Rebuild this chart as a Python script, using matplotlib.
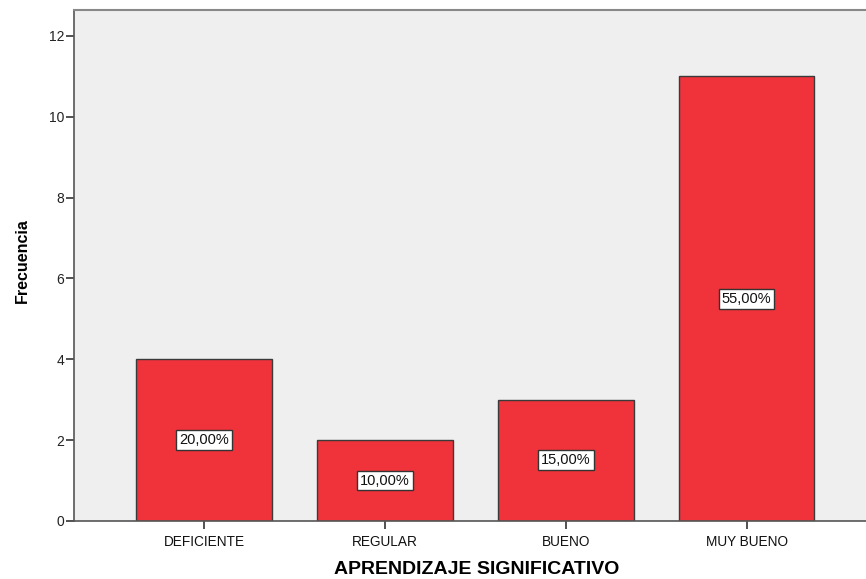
import numpy as np
import matplotlib.pyplot as plt

categorias = ['DEFICIENTE', 'REGULAR', 'BUENO', 'MUY BUENO']
frecuencia = [4, 2, 3, 11]
porcentajes = ['20,00%', '10,00%', '15,00%', '55,00%']

plt.rcParams['font.family'] = ['Liberation Sans', 'DejaVu Sans']

fig = plt.figure(figsize=(8.66, 5.79), dpi=100)
ax = fig.add_axes([0.0855, 0.1002, 0.9145, 0.8825])
ax.set_facecolor('#efefef')

x = np.arange(len(categorias))
bars = ax.bar(x, frecuencia, width=0.75, color='#f0323a', edgecolor='#3a3a3a', linewidth=1.0, zorder=2)

for xi, v, p in zip(x, frecuencia, porcentajes):
    ax.text(xi, v / 2, p, ha='center', va='center', fontsize=10.5, color='#111111', zorder=3,
            bbox=dict(boxstyle='square,pad=0.2', facecolor='white', edgecolor='#333333', linewidth=1.0))

ax.set_xlim(-0.72, 3.66)
ax.set_ylim(0, 12.64)
ax.set_yticks([0, 2, 4, 6, 8, 10, 12])
ax.set_xticks(x)
ax.set_xticklabels(categorias, fontsize=9.8)
ax.tick_params(axis='y', labelsize=10, length=6, width=1.2, color='#333333', pad=1, labelcolor='#222222')
ax.tick_params(axis='x', length=6, width=1.2, color='#333333', pad=4, labelcolor='#111111')

ax.spines['right'].set_visible(False)
ax.spines['top'].set_color('#888888')
ax.spines['top'].set_linewidth(1.5)
ax.spines['left'].set_color('#555555')
ax.spines['left'].set_linewidth(1.2)
ax.spines['bottom'].set_color('#555555')
ax.spines['bottom'].set_linewidth(1.2)

ax.set_xlabel('APRENDIZAJE SIGNIFICATIVO', fontsize=14, fontweight='bold')
ax.set_ylabel('Frecuencia', fontsize=11.5, fontweight='bold')
ax.xaxis.set_label_coords(0.509, -0.078)
ax.yaxis.set_label_coords(-0.056, 0.51)

plt.savefig('out.png', dpi=100)
